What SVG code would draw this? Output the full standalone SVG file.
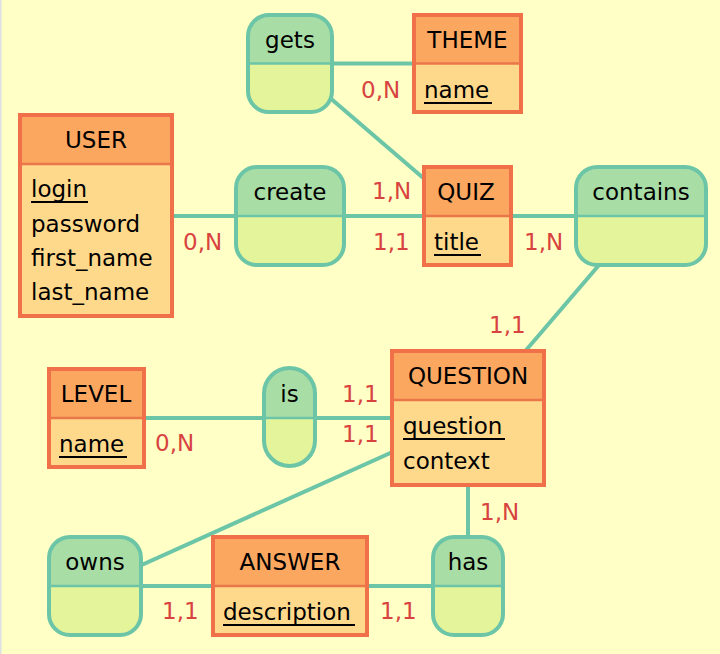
<svg xmlns="http://www.w3.org/2000/svg" width="720" height="654" viewBox="0 0 720 654">
<style>
text{font-family:"DejaVu Sans","Verdana",sans-serif;font-size:23px;fill:#000}
.c{text-anchor:middle}
.card{fill:#D8423F}
.eb{fill:#FFD98B;stroke:none}
.eh{fill:#FBA760;stroke:none}
.ef{fill:none;stroke:#F0704A;stroke-width:4}
.rb{fill:#E4F49B}
.rh{fill:#A8DDA6}
.rf{fill:none;stroke:#6CC5A7;stroke-width:4}
.rd{stroke:#6CC5A7;stroke-width:2.5}
.ed{stroke:#E9774A;stroke-width:2.5}
.u{stroke:#000;stroke-width:2}
#links line{stroke:#6CC5A7;stroke-width:4}
</style>
<defs>
<clipPath id="cgets"><rect x="248" y="15" width="84" height="97" rx="21"/></clipPath>
<clipPath id="ccreate"><rect x="236" y="167" width="108" height="98" rx="21"/></clipPath>
<clipPath id="ccontains"><rect x="576" y="167" width="130" height="98" rx="21"/></clipPath>
<clipPath id="cis"><rect x="264" y="368" width="51" height="98" rx="25.5"/></clipPath>
<clipPath id="cowns"><rect x="49" y="537" width="92" height="98" rx="21"/></clipPath>
<clipPath id="chas"><rect x="433" y="537" width="70" height="98" rx="21"/></clipPath>
</defs>
<rect width="720" height="654" fill="#FFFFC6"/>
<rect width="1.5" height="654" fill="#DCE0E4"/>
<g id="links">
<line x1="290" y1="63.5" x2="467.5" y2="63.5"/>
<line x1="290" y1="63.5" x2="467.5" y2="216"/>
<line x1="96" y1="216" x2="641" y2="216"/>
<line x1="641" y1="216" x2="468" y2="418"/>
<line x1="96" y1="418" x2="468" y2="418"/>
<line x1="95" y1="586" x2="468" y2="418"/>
<line x1="95" y1="586" x2="468" y2="586"/>
<line x1="468" y1="586" x2="468" y2="418"/>
</g>
<g id="cards">
<text class="card" x="361" y="98">0,N</text>
<text class="card" x="372" y="199">1,N</text>
<text class="card" x="373" y="250">1,1</text>
<text class="card" x="183" y="250">0,N</text>
<text class="card" x="524" y="250">1,N</text>
<text class="card" x="489" y="333">1,1</text>
<text class="card" x="342" y="402">1,1</text>
<text class="card" x="342" y="442">1,1</text>
<text class="card" x="155" y="451">0,N</text>
<text class="card" x="480" y="520">1,N</text>
<text class="card" x="162" y="619">1,1</text>
<text class="card" x="380" y="619">1,1</text>
</g>
<g id="gets">
<g clip-path="url(#cgets)"><rect x="246" y="13" width="88" height="51" class="rh"/><rect x="246" y="64" width="88" height="50" class="rb"/></g>
<line x1="248" y1="63.5" x2="332" y2="63.5" class="rd"/>
<rect x="248" y="15" width="84" height="97" rx="21" class="rf"/>
<text class="c" x="290" y="48">gets</text>
</g>
<g id="THEME">
<rect x="414" y="15" width="107" height="97" class="eb"/>
<rect x="414" y="15" width="107" height="48.5" class="eh"/>
<line x1="414" y1="63.5" x2="521" y2="63.5" class="ed"/>
<rect x="414" y="15" width="107" height="97" class="ef"/>
<text class="c" x="467.5" y="48">THEME</text>
<text x="424" y="98">name</text>
<line x1="424" y1="103" x2="492" y2="103" class="u"/>
</g>
<g id="USER">
<rect x="20" y="115" width="152" height="201" class="eb"/>
<rect x="20" y="115" width="152" height="49" class="eh"/>
<line x1="20" y1="164" x2="172" y2="164" class="ed"/>
<rect x="20" y="115" width="152" height="201" class="ef"/>
<text class="c" x="96" y="148">USER</text>
<text x="31" y="197">login</text>
<line x1="31" y1="202" x2="88" y2="202" class="u"/>
<text x="31" y="232">password</text>
<text x="31" y="266">first_name</text>
<text x="31" y="300">last_name</text>
</g>
<g id="create">
<g clip-path="url(#ccreate)"><rect x="234" y="165" width="112" height="51" class="rh"/><rect x="234" y="216" width="112" height="51" class="rb"/></g>
<line x1="236" y1="216" x2="344" y2="216" class="rd"/>
<rect x="236" y="167" width="108" height="98" rx="21" class="rf"/>
<text class="c" x="290" y="200">create</text>
</g>
<g id="QUIZ">
<rect x="424" y="167" width="87" height="98" class="eb"/>
<rect x="424" y="167" width="87" height="49" class="eh"/>
<line x1="424" y1="216" x2="511" y2="216" class="ed"/>
<rect x="424" y="167" width="87" height="98" class="ef"/>
<text class="c" x="466" y="200">QUIZ</text>
<text x="434" y="250">title</text>
<line x1="434" y1="255" x2="481" y2="255" class="u"/>
</g>
<g id="contains">
<g clip-path="url(#ccontains)"><rect x="574" y="165" width="134" height="51" class="rh"/><rect x="574" y="216" width="134" height="51" class="rb"/></g>
<line x1="576" y1="216" x2="706" y2="216" class="rd"/>
<rect x="576" y="167" width="130" height="98" rx="21" class="rf"/>
<text class="c" x="641" y="200">contains</text>
</g>
<g id="QUESTION">
<rect x="392" y="351" width="152" height="134" class="eb"/>
<rect x="392" y="351" width="152" height="49" class="eh"/>
<line x1="392" y1="400" x2="544" y2="400" class="ed"/>
<rect x="392" y="351" width="152" height="134" class="ef"/>
<text class="c" x="468" y="384">QUESTION</text>
<text x="403" y="434">question</text>
<line x1="403" y1="439" x2="505" y2="439" class="u"/>
<text x="403" y="469">context</text>
</g>
<g id="LEVEL">
<rect x="49" y="369" width="95" height="98" class="eb"/>
<rect x="49" y="369" width="95" height="49" class="eh"/>
<line x1="49" y1="418" x2="144" y2="418" class="ed"/>
<rect x="49" y="369" width="95" height="98" class="ef"/>
<text class="c" x="96" y="402">LEVEL</text>
<text x="59" y="452">name</text>
<line x1="59" y1="457" x2="127" y2="457" class="u"/>
</g>
<g id="is">
<g clip-path="url(#cis)"><rect x="262" y="366" width="55" height="52" class="rh"/><rect x="262" y="418" width="55" height="50" class="rb"/></g>
<line x1="264" y1="418" x2="315" y2="418" class="rd"/>
<rect x="264" y="368" width="51" height="98" rx="25.5" class="rf"/>
<text class="c" x="289.5" y="402">is</text>
</g>
<g id="owns">
<g clip-path="url(#cowns)"><rect x="47" y="535" width="96" height="51" class="rh"/><rect x="47" y="586" width="96" height="51" class="rb"/></g>
<line x1="49" y1="586" x2="141" y2="586" class="rd"/>
<rect x="49" y="537" width="92" height="98" rx="21" class="rf"/>
<text class="c" x="95" y="570">owns</text>
</g>
<g id="ANSWER">
<rect x="213" y="537" width="154" height="98" class="eb"/>
<rect x="213" y="537" width="154" height="49" class="eh"/>
<line x1="213" y1="586" x2="367" y2="586" class="ed"/>
<rect x="213" y="537" width="154" height="98" class="ef"/>
<text class="c" x="290" y="570">ANSWER</text>
<text x="223" y="620">description</text>
<line x1="223" y1="625" x2="355" y2="625" class="u"/>
</g>
<g id="has">
<g clip-path="url(#chas)"><rect x="431" y="535" width="74" height="51" class="rh"/><rect x="431" y="586" width="74" height="51" class="rb"/></g>
<line x1="433" y1="586" x2="503" y2="586" class="rd"/>
<rect x="433" y="537" width="70" height="98" rx="21" class="rf"/>
<text class="c" x="468" y="570">has</text>
</g>
</svg>
